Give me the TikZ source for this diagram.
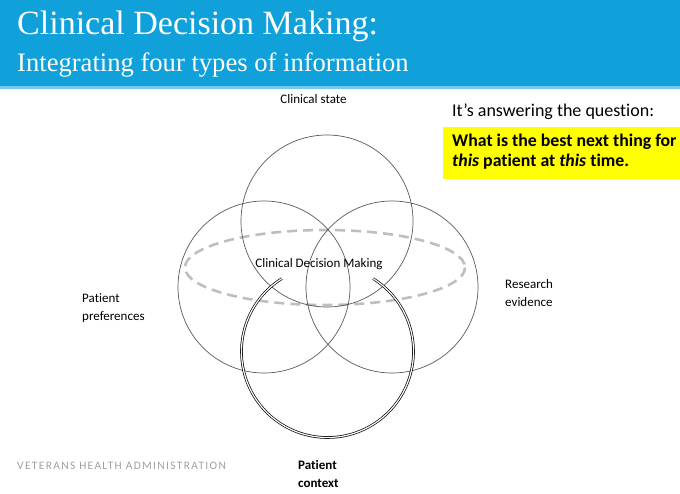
\documentclass[tikz,border=0pt]{standalone}
\usepackage{fontspec}
\setmainfont{Carlito}[Ligatures={NoCommon,NoContextual}]
\newfontfamily\titlefont{Liberation Serif}
\newfontfamily\footfont{Carlito}[LetterSpace=12,Ligatures={NoCommon,NoContextual}]
\definecolor{vablue}{RGB}{16,160,218}
\definecolor{vastrip}{RGB}{120,200,235}
\definecolor{dashgray}{RGB}{190,190,190}
\definecolor{circgray}{RGB}{90,90,90}
\definecolor{footgray}{RGB}{160,160,160}
\definecolor{qyellow}{RGB}{255,255,0}
\begin{document}
\begin{tikzpicture}[x=1pt,y=-1pt,
  venn/.style={circle,draw=circgray,line width=0.7pt,minimum size=172pt,inner sep=0pt},
  lbl/.style={font=\fontsize{13}{18}\selectfont,inner sep=0pt,align=left},
  heading/.style={text=white,inner sep=0pt,anchor=base west}]
\useasboundingbox (0,0) rectangle (680,494);
% header
\fill[vablue] (0,0) rectangle (680,86);
\fill[vastrip] (0,86) rectangle (680,89);
\node[heading,font=\titlefont\fontsize{34}{34}\selectfont] (title) at (17,35) {Clinical Decision Making:};
\node[heading,font=\titlefont\fontsize{26.6}{26.6}\selectfont] (subtitle) at (17,72) {Integrating four types of information};
% dashed ellipse
\draw[dashgray,line width=2.6pt,dash pattern=on 10pt off 6pt] (325,267.5) ellipse [x radius=140, y radius=37.5];
% circles
\node[venn] (state) at (327,221) {};
\node[venn] (pref) at (264,287) {};
\node[venn] (evid) at (392,287) {};
\coordinate (ctx) at (327.5,351.5);
\draw[black,line width=0.7pt,double=white,double distance=1.2pt] (ctx) ++(238:86) arc[start angle=238,end angle=-58,radius=86];
% labels
\node[lbl] (lstate) at (313.5,99) {Clinical state};
\node[lbl] (lcdm) at (319,264) {Clinical Decision Making};
\node[lbl,anchor=west] (levid) at (505,293) {Research\\evidence};
\node[lbl,anchor=west] (lpref) at (82,308) {Patient\\preferences};
\node[lbl,anchor=west,font=\bfseries\fontsize{13}{18}\selectfont] (lctx) at (298,474) {Patient\\context};
% question
\node[anchor=west,inner sep=0pt,font=\fontsize{18}{20}\selectfont] (q) at (452,112) {It’s answering the question:};
\fill[qyellow] (443,127) rectangle (680,179);
\node[anchor=north west,inner sep=0pt,align=left,font=\bfseries\fontsize{17.8}{20}\selectfont] (ans) at (452,134) {What is the best next thing for\\\textit{this} patient at \textit{this} time.};
% footer
\node[anchor=west,inner sep=0pt,text=footgray,font=\footfont\fontsize{11.4}{12}\selectfont] (foot) at (17,466) {VETERANS HEALTH ADMINISTRATION};
\end{tikzpicture}
\end{document}
